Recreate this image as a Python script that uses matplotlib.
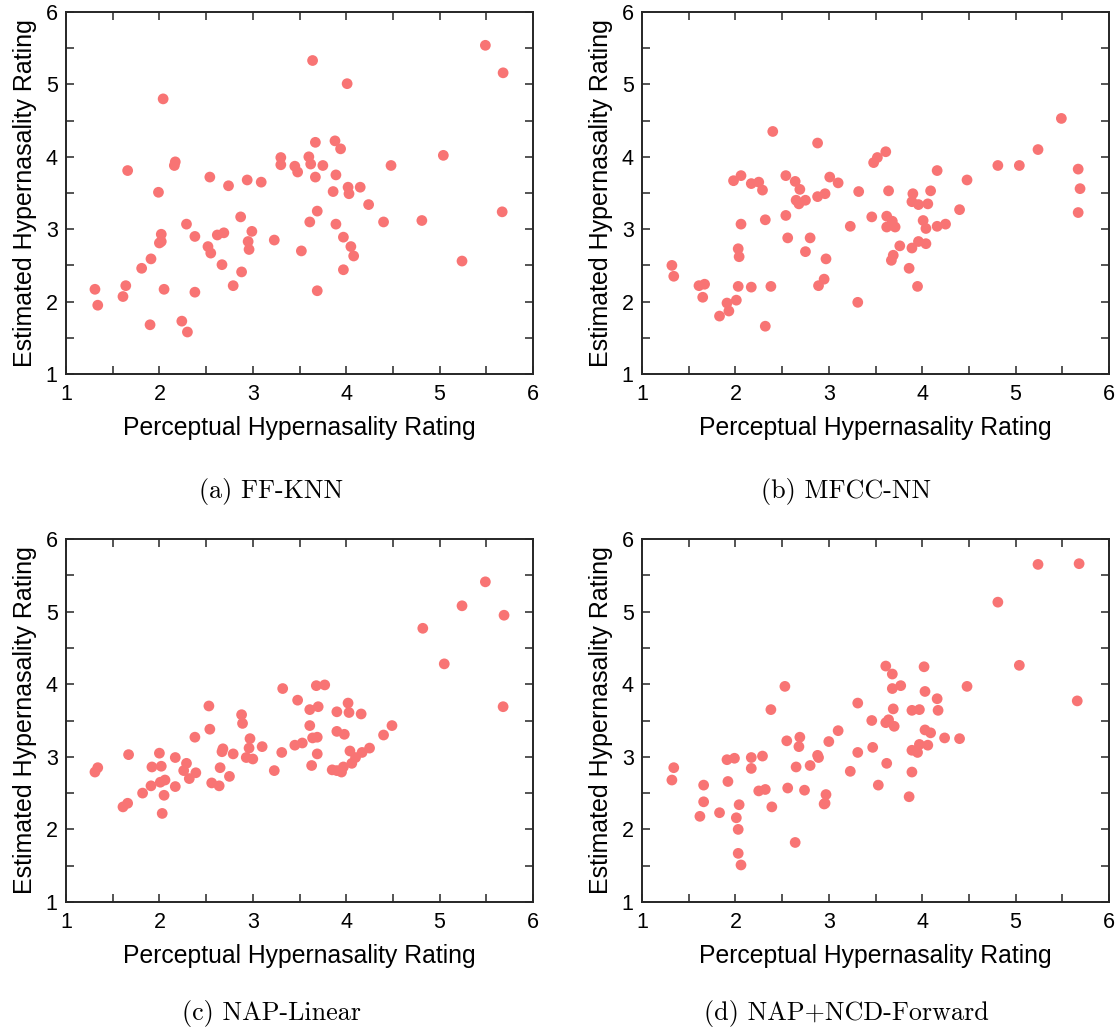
import numpy as np
import matplotlib
matplotlib.use("Agg")
import matplotlib.pyplot as plt
from matplotlib.ticker import MultipleLocator

# ---------------- data ----------------
captions = ["(a) FF-KNN", "(b) MFCC-NN", "(c) NAP-Linear", "(d) NAP+NCD-Forward"]
x_label = "Perceptual Hypernasality Rating"
y_label = "Estimated Hypernasality Rating"
tick_values = [1, 2, 3, 4, 5, 6]

ffknn_x = [5.49, 5.68, 3.64, 4.01, 2.04, 3.67, 3.88, 3.94, 3.30, 3.60, 3.62, 3.30, 3.45,
           3.48, 3.75, 3.67, 3.89, 4.48, 5.04, 2.17, 2.16, 1.66, 1.99, 2.54, 2.74, 2.94,
           3.09, 3.86, 4.02, 4.03, 4.15, 4.24, 2.87, 3.69, 3.61, 3.89, 4.40, 4.81, 5.67,
           2.29, 2.02, 2.00, 2.02, 2.38, 2.62, 2.69, 2.99, 2.95, 2.96, 3.23, 2.52, 2.55,
           2.67, 2.88, 3.97, 4.05, 4.08, 3.52, 3.97, 5.24, 1.91, 1.81, 1.64, 1.31, 1.34,
           1.61, 2.05, 2.38, 2.79, 3.69, 1.90, 2.24, 2.30]
ffknn_y = [5.54, 5.16, 5.33, 5.01, 4.80, 4.20, 4.22, 4.11, 3.99, 4.00, 3.90, 3.89, 3.87,
           3.79, 3.88, 3.72, 3.75, 3.88, 4.02, 3.93, 3.88, 3.81, 3.51, 3.72, 3.60, 3.68,
           3.65, 3.52, 3.58, 3.49, 3.58, 3.34, 3.17, 3.25, 3.10, 3.07, 3.10, 3.12, 3.24,
           3.07, 2.93, 2.81, 2.83, 2.90, 2.92, 2.95, 2.97, 2.83, 2.72, 2.85, 2.76, 2.67,
           2.51, 2.41, 2.89, 2.76, 2.63, 2.70, 2.44, 2.56, 2.59, 2.46, 2.22, 2.17, 1.95,
           2.07, 2.17, 2.13, 2.22, 2.15, 1.68, 1.73, 1.58]

mfccnn_x = [5.49, 5.24, 4.81, 5.04, 5.67, 5.69, 5.67, 2.40, 2.88, 3.61, 3.52, 3.48, 4.16,
            4.48, 1.98, 2.06, 2.17, 2.25, 2.29, 2.54, 2.64, 2.69, 2.65, 2.68, 2.75, 2.88,
            2.96, 3.01, 3.10, 3.32, 3.64, 3.90, 3.89, 3.96, 4.06, 4.09, 4.40, 2.06, 2.32,
            2.54, 3.46, 3.62, 3.68, 3.62, 3.71, 3.23, 4.01, 4.04, 4.16, 4.25, 2.56, 2.80,
            2.03, 2.04, 2.75, 2.97, 3.76, 3.89, 3.96, 4.04, 3.69, 3.67, 3.86, 3.95, 1.32,
            1.34, 1.61, 1.67, 1.65, 2.03, 2.17, 2.38, 2.89, 2.95, 1.91, 1.93, 2.01, 1.83,
            2.32, 3.31]
mfccnn_y = [4.53, 4.10, 3.88, 3.88, 3.83, 3.56, 3.23, 4.35, 4.19, 4.07, 3.99, 3.92, 3.81,
            3.68, 3.67, 3.74, 3.63, 3.65, 3.54, 3.74, 3.66, 3.55, 3.40, 3.35, 3.40, 3.45,
            3.49, 3.72, 3.64, 3.52, 3.53, 3.49, 3.38, 3.34, 3.35, 3.53, 3.27, 3.07, 3.13,
            3.19, 3.17, 3.18, 3.11, 3.03, 3.03, 3.04, 3.12, 3.01, 3.04, 3.07, 2.88, 2.88,
            2.73, 2.62, 2.69, 2.59, 2.77, 2.74, 2.83, 2.80, 2.64, 2.57, 2.46, 2.21, 2.50,
            2.35, 2.22, 2.24, 2.06, 2.21, 2.20, 2.21, 2.22, 2.31, 1.98, 1.87, 2.02, 1.80,
            1.66, 1.99]

naplin_x = [5.49, 5.24, 5.69, 4.82, 5.05, 5.68, 3.32, 3.68, 3.77, 3.48, 3.61, 3.70, 4.02,
            4.03, 4.16, 3.90, 2.53, 2.88, 2.89, 2.54, 3.61, 4.49, 4.40, 3.90, 3.98, 3.64,
            3.69, 2.38, 2.97, 2.96, 3.10, 2.68, 2.67, 2.79, 3.31, 3.45, 3.53, 3.69, 4.04,
            4.17, 4.25, 4.10, 4.06, 3.97, 3.95, 3.90, 3.85, 3.63, 3.23, 2.93, 3.00, 2.65,
            2.75, 2.64, 2.56, 2.29, 2.26, 2.39, 2.32, 2.17, 2.00, 2.02, 1.92, 1.67, 1.34,
            1.31, 1.91, 2.01, 2.06, 2.17, 2.05, 1.82, 1.61, 1.66, 2.03]
naplin_y = [5.41, 5.08, 4.95, 4.77, 4.28, 3.69, 3.94, 3.98, 3.99, 3.78, 3.65, 3.69, 3.74,
            3.61, 3.59, 3.62, 3.70, 3.58, 3.46, 3.38, 3.43, 3.43, 3.30, 3.35, 3.31, 3.26,
            3.27, 3.27, 3.25, 3.12, 3.14, 3.11, 3.07, 3.04, 3.06, 3.16, 3.19, 3.04, 3.08,
            3.06, 3.12, 2.99, 2.91, 2.86, 2.79, 2.81, 2.82, 2.88, 2.81, 2.99, 2.97, 2.85,
            2.73, 2.60, 2.64, 2.91, 2.81, 2.78, 2.70, 2.99, 3.05, 2.87, 2.86, 3.03, 2.85,
            2.79, 2.60, 2.65, 2.68, 2.59, 2.47, 2.50, 2.31, 2.36, 2.22]

napncd_x = [5.24, 5.68, 4.81, 5.04, 5.66, 3.61, 4.02, 3.68, 3.77, 3.68, 4.03, 4.48, 2.53,
            4.16, 3.31, 2.38, 3.69, 3.89, 3.97, 4.17, 3.46, 3.64, 3.61, 3.70, 3.10, 4.03,
            4.09, 4.24, 4.40, 2.55, 2.69, 2.68, 3.00, 3.47, 3.97, 4.06, 3.89, 3.95, 3.31,
            2.88, 2.89, 2.17, 2.29, 1.91, 1.99, 2.17, 2.65, 2.80, 3.62, 3.23, 3.89, 1.34,
            1.32, 1.66, 1.92, 3.53, 2.56, 2.25, 2.32, 2.74, 2.97, 3.86, 1.66, 2.04, 2.95,
            2.96, 1.83, 1.62, 2.01, 2.39, 2.03, 2.64, 2.03, 2.06]
napncd_y = [5.65, 5.66, 5.13, 4.26, 3.77, 4.25, 4.24, 4.14, 3.98, 3.94, 3.90, 3.97, 3.97,
            3.80, 3.74, 3.65, 3.66, 3.64, 3.65, 3.64, 3.50, 3.51, 3.47, 3.42, 3.36, 3.37,
            3.33, 3.26, 3.25, 3.22, 3.27, 3.14, 3.21, 3.13, 3.17, 3.16, 3.09, 3.06, 3.06,
            3.02, 2.99, 2.99, 3.01, 2.96, 2.98, 2.84, 2.86, 2.88, 2.91, 2.80, 2.79, 2.85,
            2.68, 2.61, 2.66, 2.61, 2.57, 2.53, 2.55, 2.54, 2.48, 2.45, 2.38, 2.34, 2.35,
            2.36, 2.23, 2.18, 2.16, 2.31, 2.00, 1.82, 1.67, 1.51]

panels = [(ffknn_x, ffknn_y), (mfccnn_x, mfccnn_y), (naplin_x, naplin_y), (napncd_x, napncd_y)]

# ---------------- layout ----------------
W, H = 1119, 1034
fig = plt.figure(figsize=(W / 100, H / 100), dpi=100)
fig.patch.set_facecolor("white")

# axes boxes in pixels: (left, top, right, bottom)
boxes = [(66, 12, 533, 374), (642, 12, 1109, 374),
         (66, 539, 533, 902), (642, 539, 1109, 902)]
caption_pos = [(271, 498), (846, 498), (271, 1020), (846, 1020)]

point_color = "#F87474"
frame_color = "#262626"
label_font = ["Liberation Sans", "DejaVu Sans"]

for (xs, ys), (l, t, r, b), cap, (cx, cy) in zip(panels, boxes, captions, caption_pos):
    ax = fig.add_axes([l / W, 1 - b / H, (r - l) / W, (b - t) / H])
    ax.scatter(xs, ys, s=60, color=point_color, edgecolors="none", zorder=3)
    ax.set_xlim(1, 6)
    ax.set_ylim(1, 6)
    ax.set_xticks(tick_values)
    ax.set_yticks(tick_values)
    ax.set_xticklabels([str(v) for v in tick_values])
    ax.set_yticklabels([str(v) for v in tick_values])
    ax.xaxis.set_minor_locator(MultipleLocator(0.5))
    ax.yaxis.set_minor_locator(MultipleLocator(0.5))
    ax.tick_params(which="both", direction="in", top=True, right=True,
                   length=6, width=1.1, color=frame_color)
    ax.tick_params(which="major", labelsize=15.5, pad=7, labelcolor="black")
    ax.tick_params(axis="y", which="major", pad=6)
    for lab in ax.get_xticklabels() + ax.get_yticklabels():
        lab.set_family(label_font)
    for sp in ax.spines.values():
        sp.set_linewidth(1.4)
        sp.set_color(frame_color)
    ax.set_xlabel(x_label, fontsize=17.8, family=label_font)
    ax.set_ylabel(y_label, fontsize=18, family=label_font)
    ax.xaxis.set_label_coords(0.5, -41.6 / (b - t))
    ax.yaxis.set_label_coords(-29.0 / (r - l), 0.5)
    fig.text(cx / W, 1 - cy / H, cap, ha="center", va="baseline",
             fontsize=18.8, family=["cmr10", "DejaVu Serif"])

fig.savefig("out.png", dpi=100, facecolor="white")
